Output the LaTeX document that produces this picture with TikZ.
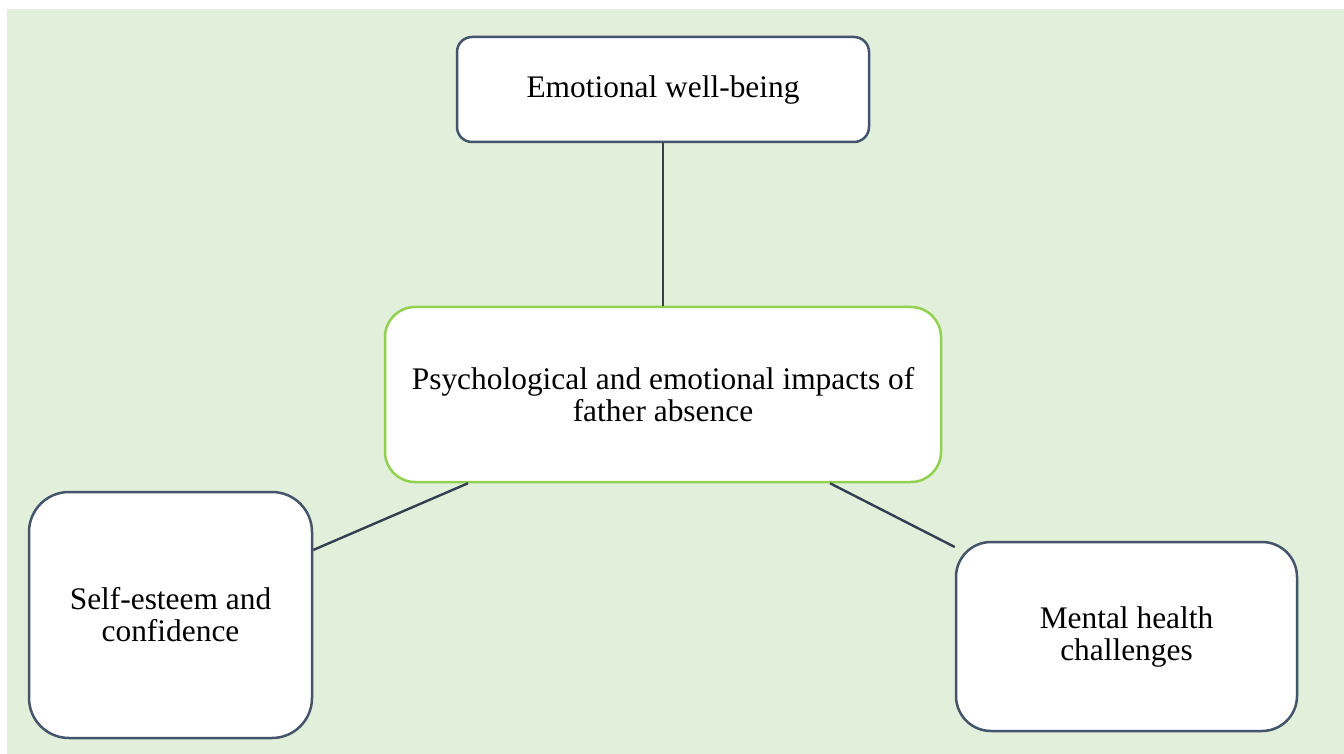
\documentclass[tikz,border=0pt]{standalone}
\usepackage{fontspec}
\setmainfont{Liberation Serif}
\usetikzlibrary{calc}
\definecolor{bgc}{HTML}{E2EFDA}
\definecolor{edgec}{HTML}{44546A}
\definecolor{linec}{HTML}{333F50}
\definecolor{greenc}{HTML}{92D050}
\begin{document}
\begin{tikzpicture}[x=0.5pt,y=-0.5pt,
  box/.style={draw=edgec, line width=1.25pt, fill=white, align=center, inner sep=0pt,
    font=\fontsize{15.7pt}{16pt}\selectfont},
  link/.style={draw=linec, line width=1.2pt}]
\useasboundingbox (0,0) rectangle (1344,754);
\fill[bgc] (7,9) rectangle (1344,754);
\node[box, minimum width=206pt, minimum height=52.5pt, rounded corners=7.5pt] (top) at (663,89.5) {Emotional well-being};
\node[box, draw=greenc, minimum width=278pt, minimum height=87.5pt, rounded corners=15pt] (center) at (663,394.5) {Psychological and emotional impacts of\\father absence};
\node[box, minimum width=141.5pt, minimum height=123pt, rounded corners=20pt] (left) at (170.5,615) {Self-esteem and\\confidence};
\node[box, minimum width=170.5pt, minimum height=94.5pt, rounded corners=17.5pt] (right) at (1126.5,636.5) {Mental health\\challenges};
\draw[link] (top.south) -- (center.north);
\draw[link] ($(center.south)+(-195,0)$) -- ($(left.east)+(0,-65)$);
\draw[link] ($(center.south)+(167,0)$) -- ($(right.west)+(0,-89.5)$);
\end{tikzpicture}
\end{document}
